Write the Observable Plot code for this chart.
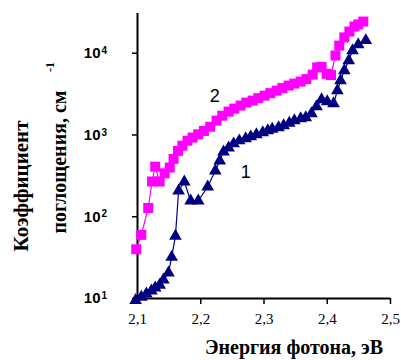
<!DOCTYPE html>
<html><head><meta charset="utf-8">
<script src="https://cdn.jsdelivr.net/npm/d3@7"></script>
<script src="https://cdn.jsdelivr.net/npm/@observablehq/plot@0.6"></script>
<style>body{margin:0;background:#fff}</style></head>
<body><div id="chart"></div>
<script>
// Series 1 (navy triangles): photon energy, eV and absorption coefficient, cm^-1
const energy1 = [2.097, 2.106, 2.114, 2.122, 2.128, 2.135, 2.141, 2.149, 2.154, 2.160, 2.165, 2.174, 2.184, 2.196, 2.211, 2.223, 2.230, 2.236, 2.244, 2.252, 2.261, 2.271, 2.279, 2.288, 2.298, 2.306, 2.313, 2.323, 2.331, 2.340, 2.348, 2.358, 2.366, 2.375, 2.383, 2.391, 2.400, 2.410, 2.416, 2.421, 2.427, 2.434, 2.440, 2.449, 2.461];
const alpha1  = [9.5, 10.4, 11.4, 12.4, 13.5, 14.6, 16.9, 20.6, 32, 58, 208, 268, 157, 157, 232, 365, 484, 624, 698, 782, 851, 901, 953, 1009, 1068, 1130, 1178, 1229, 1300, 1395, 1497, 1584, 1630, 1825, 2222, 2710, 2560, 2420, 3490, 4630, 6130, 8130, 10790, 12790, 14330];
// Series 2 (magenta squares)
const energy2 = [2.098, 2.106, 2.117, 2.123, 2.128, 2.135, 2.143, 2.151, 2.157, 2.164, 2.171, 2.179, 2.187, 2.196, 2.205, 2.215, 2.225, 2.234, 2.244, 2.253, 2.263, 2.272, 2.282, 2.291, 2.301, 2.310, 2.320, 2.329, 2.339, 2.348, 2.358, 2.367, 2.377, 2.384, 2.391, 2.399, 2.406, 2.413, 2.419, 2.427, 2.435, 2.443, 2.449, 2.457];
const alpha2  = [40, 60, 128, 270, 410, 270, 340, 400, 510, 640, 740, 850, 930, 1020, 1120, 1260, 1500, 1720, 1930, 2100, 2290, 2490, 2630, 2820, 3030, 3250, 3490, 3750, 4020, 4250, 4500, 4830, 5480, 6700, 6800, 5600, 5400, 9380, 12400, 15600, 18400, 21200, 22500, 24400];
// Curve labels
const curveNames = ["1", "2"];
const curveLabelE = [2.271, 2.222];
const curveLabelA = [346, 3000];
// Axis ticks
const xTicks = [2.1, 2.2, 2.3, 2.4, 2.5];
const yTicks = [10, 100, 1000, 10000];
const yTickBase = "10";
const xTitle = "Энергия фотона, эВ";
const yTitle1 = "Коэффициент";
const yTitle2 = "поглощения, см";
const yTitleSup = "-1";

const s1 = energy1.map((e, i) => ({e, a: alpha1[i]}));
const s2 = energy2.map((e, i) => ({e, a: alpha2[i]}));
const labs = curveNames.map((t, i) => ({t, e: curveLabelE[i], a: curveLabelA[i]}));
const serif = "'Liberation Serif', 'Times New Roman', serif";
const sans = "'Liberation Sans', Arial, sans-serif";
const rotTitle = {frameAnchor: "left", rotate: -90, textAnchor: "middle", lineAnchor: "middle", fontFamily: serif, fontWeight: "bold"};

const chart = Plot.plot({
  width: 401, height: 360,
  marginLeft: 137, marginRight: 11, marginTop: 13, marginBottom: 62,
  style: {fontFamily: sans, background: "#fff", overflow: "visible"},
  x: {domain: [2.1, 2.5]},
  y: {type: "log", domain: [10, 30600]},
  marks: [
    Plot.axisX({ticks: xTicks, tickSize: 6, tickPadding: 9, tickFormat: d => d.toFixed(1).replace(".", ","), fontFamily: serif, fontSize: 15, label: null, strokeWidth: 1.5}),
    Plot.axisY({ticks: yTicks, tickSize: 5, tickPadding: 32, tickFormat: () => yTickBase, fontSize: 15, fontWeight: "bold", label: null, strokeWidth: 1.5}),
    Plot.text(yTicks, {y: d => d, text: d => String(Math.round(Math.log10(d))), frameAnchor: "left", dx: -36, dy: -6.5, textAnchor: "start", lineAnchor: "top", fontSize: 10, fontWeight: "bold"}),
    Plot.ruleX([2.1], {strokeWidth: 2}),
    Plot.ruleY([10], {strokeWidth: 2}),
    Plot.line(s2, {x: "e", y: "a", stroke: "#ff00ff", strokeWidth: 1.2}),
    Plot.dot(s2, {x: "e", y: "a", symbol: "square", r: 5.64, fill: "#ff00ff"}),
    Plot.line(s1, {x: "e", y: "a", stroke: "#000080", strokeWidth: 1.2}),
    Plot.dot(s1, {x: "e", y: "a", symbol: "triangle", r: 4.7, fill: "#000080"}),
    Plot.text(labs, {x: "e", y: "a", text: "t", fontSize: 18, fill: "#000"}),
    Plot.text([xTitle], {text: d => d, frameAnchor: "bottom", textAnchor: "middle", lineAnchor: "middle", dx: 30, dy: 49.5, fontFamily: serif, fontWeight: "bold", fontSize: 20, ariaLabel: "xtitle"}),
    Plot.text([yTitle1], {...rotTitle, text: d => d, dx: -116, dy: 30, fontSize: 21, ariaLabel: "ytitle1"}),
    Plot.text([yTitle2], {...rotTitle, text: d => d, dx: -78, dy: 6, fontSize: 20, ariaLabel: "ytitle2"}),
    Plot.text([yTitleSup], {...rotTitle, text: d => d, dx: -87, dy: -89, fontSize: 12})
  ]
});
d3.select(chart).selectAll('g[aria-label="xtitle"] text').attr("letter-spacing", "3.5px");
d3.select(chart).selectAll('g[aria-label="ytitle1"] text').attr("letter-spacing", "2.8px");
d3.select(chart).selectAll('g[aria-label="ytitle2"] text').attr("letter-spacing", "1px");
document.getElementById("chart").appendChild(chart);
</script></body></html>
